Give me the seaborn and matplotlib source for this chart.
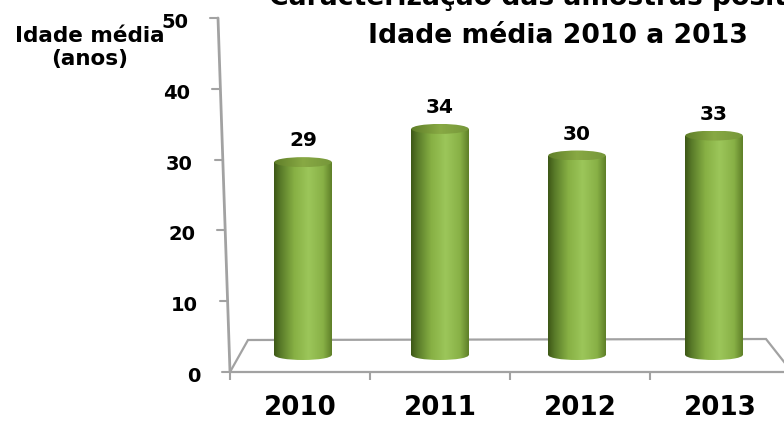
import numpy as np
import pandas as pd
import matplotlib
matplotlib.use("Agg")
import matplotlib.pyplot as plt
from matplotlib.colors import LinearSegmentedColormap
from matplotlib.patches import Ellipse, Polygon
from matplotlib.lines import Line2D
from matplotlib.transforms import blended_transform_factory, ScaledTranslation
import seaborn as sns

# ---- data -------------------------------------------------------------
years = ["2010", "2011", "2012", "2013"]
mean_age = [29, 34, 30, 33]
value_ticks = [0, 10, 20, 30, 40, 50]
title_lines = ["Caracterização das amostras positivas", "Idade média 2010 a 2013"]
axis_title = "Idade média\n(anos)"

# ---- figure setup -----------------------------------------------------
W, H = 784, 422
sns.set_style("white")
plt.rcParams["font.family"] = ["DejaVu Sans"]
plt.rcParams["text.color"] = "black"
plt.rcParams["xtick.color"] = "black"
plt.rcParams["ytick.color"] = "black"
plt.rcParams["xtick.labelcolor"] = "black"
fig = plt.figure(figsize=(W / 100, H / 100), dpi=100)
fig.patch.set_facecolor("white")

GRAY = "#a2a2a2"


def fx(px):
    return px / W


def fy(py):
    return 1 - py / H


# ---- front (value) axis and floor of the 3-D box -----------------------
ax_val = fig.add_axes([fx(230), fy(372), (784 - 230) / W, (372 - 18) / H])
ax_val.set_xlim(0, (784 - 230) / 140)
ax_val.set_ylim(0, 50)
for s in ax_val.spines.values():
    s.set_visible(False)
ax_val.patch.set_visible(False)
ax_val.set_yticks([])
ax_val.set_xticks(range(len(years)))
ax_val.set_xticklabels([])
ax_val.set_xticks([i + 0.5 for i in range(len(years))], minor=True)
ax_val.set_xticklabels(years, minor=True, fontsize=18.8, fontweight="bold",
                       color="black")
ax_val.tick_params(axis="x", which="major", length=6, width=1.5, color=GRAY,
                   direction="out", bottom=True)
ax_val.tick_params(axis="x", which="minor", length=0, pad=16.5)

# floor outline
floor = Polygon([(fx(230), fy(372)), (fx(248), fy(340)), (fx(766), fy(339)),
                 (fx(792), fy(372))], closed=True, fill=False, ec=GRAY, lw=1.6,
                transform=fig.transFigure, clip_on=False, zorder=1)
ax_val.add_patch(floor)

# slanted value axis line
ax_val.add_line(Line2D([fx(218), fx(230)], [fy(18), fy(372)], color=GRAY, lw=2.0,
                       transform=fig.transFigure, clip_on=False, zorder=1))

# value ticks and labels following the slant
bt = blended_transform_factory(fig.transFigure, ax_val.transData)
label_tr = bt + ScaledTranslation(0, -10 / 100, fig.dpi_scale_trans)
for v in value_ticks:
    axis_x = 218 + (50 - v) / 50 * 12
    ax_val.add_line(Line2D([fx(axis_x - 8), fx(axis_x)], [v, v], color=GRAY, lw=1.5,
                           transform=bt, clip_on=False))
    ax_val.text(fx(axis_x - 30), v, str(v), transform=label_tr, ha="right",
                va="baseline", fontsize=14, fontweight="bold", color="black")

# ---- cylinders --------------------------------------------------------
px_per_unit = 6.65
base_px = 355
ymin = -2
ax = fig.add_axes([fx(234.5), fy(base_px - ymin * px_per_unit), 548 / W,
                   (50 - ymin) * px_per_unit / H])
df = pd.DataFrame({"ano": years, "idade": mean_age})
sns.barplot(data=df, x="ano", y="idade", ax=ax, width=0.42, color="#8db44a",
            saturation=1, zorder=2)

body_cmap = LinearSegmentedColormap.from_list(
    "cyl_body", [(0.0, "#3d5716"), (0.12, "#5a7c2a"), (0.35, "#87b044"),
                 (0.6, "#9cc65a"), (0.85, "#88b046"), (1.0, "#5e7f28")])
top_cmap = LinearSegmentedColormap.from_list(
    "cyl_top", [(0.0, "#5f7e28"), (0.5, "#88a944"), (1.0, "#76973a")])
grad = np.linspace(0, 1, 256).reshape(1, -1)
eh = 10 / px_per_unit

for patch in list(ax.patches):
    x0, w, h = patch.get_x(), patch.get_width(), patch.get_height()
    cx = x0 + w / 2
    patch.set_facecolor("none")
    patch.set_edgecolor("none")
    bottom = Ellipse((cx, 0), w, eh, fc="none", ec="none")
    ax.add_patch(bottom)
    for clip in (patch, bottom):
        im = ax.imshow(grad, extent=[x0, x0 + w, -eh, h], aspect="auto",
                       cmap=body_cmap, interpolation="bilinear", zorder=2)
        im.set_clip_path(clip)
    top = Ellipse((cx, h), w, eh, fc="none", ec="none")
    ax.add_patch(top)
    im = ax.imshow(grad, extent=[x0, x0 + w, h - eh / 2, h + eh / 2], aspect="auto",
                   cmap=top_cmap, interpolation="bilinear", zorder=3)
    im.set_clip_path(top)
    ax.annotate(f"{h:.0f}", (cx, h), xytext=(0, 16), textcoords="offset pixels",
                ha="center", va="baseline", fontsize=14.5, fontweight="bold",
                color="black")

ax.set_xlim(-0.5, len(years) - 0.5)
ax.set_ylim(ymin, 50)
ax.axis("off")

# ---- titles -----------------------------------------------------------
fig.text(fx(558), fy(5), title_lines[0], ha="center", va="baseline",
         fontsize=19.2, fontweight="bold", color="black")
fig.text(fx(558), fy(43), title_lines[1], ha="center", va="baseline",
         fontsize=19.2, fontweight="bold", color="black")
fig.text(fx(90), fy(65), axis_title, ha="center", va="baseline", multialignment="center",
         fontsize=15.5, fontweight="bold", color="black")

fig.savefig("out.png", dpi=100)
